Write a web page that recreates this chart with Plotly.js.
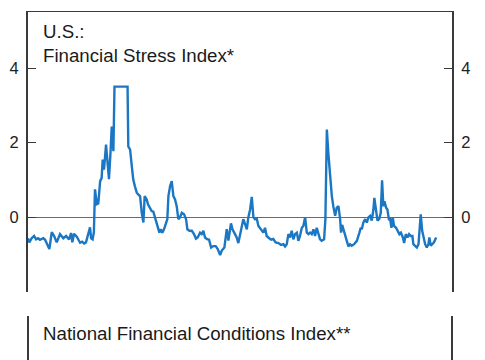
<!DOCTYPE html>
<html>
<head>
<meta charset="utf-8">
<script src="https://cdn.plot.ly/plotly-3.0.1.min.js"></script>
<style>
  html, body { margin: 0; padding: 0; background: #fff; }
  #chart { width: 485px; height: 360px; }
</style>
</head>
<body>
<div id="chart"></div>
<script>
// Time in decimal years
const years = [
  2003.96, 2004.03, 2004.16, 2004.29, 2004.40, 2004.51, 2004.61, 2004.79, 2004.89, 2004.98,
  2005.12, 2005.25, 2005.38, 2005.52, 2005.62, 2005.70, 2005.88, 2006.03, 2006.19, 2006.30,
  2006.37, 2006.46, 2006.61, 2006.71, 2006.79, 2006.90, 2007.01, 2007.11, 2007.24, 2007.33,
  2007.39, 2007.47, 2007.54, 2007.60, 2007.70, 2007.78, 2007.88, 2007.96, 2008.02, 2008.09,
  2008.20, 2008.28, 2008.36, 2008.45, 2008.51, 2008.55, 2008.60, 2008.66, 2008.69, 2009.34,
  2009.37, 2009.41, 2009.51, 2009.60, 2009.68, 2009.77, 2009.87, 2009.96, 2010.05, 2010.14,
  2010.23, 2010.30, 2010.41, 2010.48, 2010.55, 2010.68, 2010.77, 2010.86, 2010.99, 2011.10,
  2011.17, 2011.26, 2011.35, 2011.45, 2011.53, 2011.59, 2011.68, 2011.77, 2011.86, 2011.95,
  2012.04, 2012.13, 2012.22, 2012.32, 2012.44, 2012.55, 2012.62, 2012.73, 2012.86, 2012.98,
  2013.09, 2013.18, 2013.31, 2013.40, 2013.49, 2013.58, 2013.67, 2013.80, 2013.91, 2014.03,
  2014.16, 2014.27, 2014.40, 2014.49, 2014.63, 2014.76, 2014.85, 2014.99, 2015.07, 2015.21,
  2015.30, 2015.39, 2015.48, 2015.58, 2015.66, 2015.76, 2015.85, 2015.93, 2016.03, 2016.12,
  2016.21, 2016.30, 2016.39, 2016.48, 2016.57, 2016.66, 2016.75, 2016.84, 2016.93, 2017.02,
  2017.17, 2017.29, 2017.42, 2017.57, 2017.71, 2017.84, 2017.93, 2018.02, 2018.11, 2018.20,
  2018.29, 2018.38, 2018.47, 2018.57, 2018.65, 2018.74, 2018.84, 2018.92, 2019.02, 2019.11,
  2019.20, 2019.29, 2019.38, 2019.47, 2019.56, 2019.65, 2019.74, 2019.83, 2019.92, 2020.05,
  2020.12, 2020.20, 2020.28, 2020.38, 2020.47, 2020.55, 2020.65, 2020.74, 2020.83, 2020.92,
  2020.97, 2021.03, 2021.10, 2021.19, 2021.28, 2021.37, 2021.46, 2021.55, 2021.68, 2021.83,
  2021.97, 2022.04, 2022.10, 2022.18, 2022.28, 2022.37, 2022.46, 2022.55, 2022.64, 2022.73,
  2022.78, 2022.88, 2022.95, 2023.04, 2023.13, 2023.20, 2023.27, 2023.33, 2023.42, 2023.49,
  2023.57, 2023.64, 2023.71, 2023.78, 2023.85, 2023.96, 2024.03, 2024.14, 2024.22, 2024.33,
  2024.40, 2024.49, 2024.58, 2024.67, 2024.76, 2024.85, 2024.90, 2025.00, 2025.09, 2025.18,
  2025.23, 2025.30, 2025.38, 2025.45, 2025.54, 2025.63, 2025.72, 2025.77, 2025.85, 2025.93,
  2026.02, 2026.14
];

// Financial Stress Index values (display capped at 3.5 as in the source)
const stressIndex = [
  -0.56, -0.67, -0.56, -0.50, -0.59, -0.56, -0.60, -0.56, -0.60, -0.72,
  -0.85, -0.40, -0.50, -0.67, -0.55, -0.45, -0.56, -0.50, -0.59, -0.42,
  -0.67, -0.44, -0.52, -0.60, -0.68, -0.65, -0.70, -0.67, -0.40, -0.27,
  -0.56, -0.59, -0.40, 0.75, 0.35, 0.37, 0.97, 1.05, 1.55, 1.28,
  1.95, 1.50, 1.02, 1.80, 2.43, 2.10, 1.77, 3.50, 3.50, 3.50,
  3.50, 1.90, 1.81, 1.37, 1.01, 0.83, 0.66, 0.61, 0.57, 0.13,
  -0.14, 0.57, 0.48, 0.35, 0.27, 0.17, 0.15, 0.00, -0.23, -0.41,
  -0.32, -0.41, -0.32, -0.14, -0.05, 0.57, 0.83, 0.97, 0.57, 0.48,
  0.30, -0.05, 0.00, 0.12, 0.08, -0.05, -0.32, -0.36, -0.36, -0.45,
  -0.57, -0.54, -0.41, -0.45, -0.36, -0.54, -0.58, -0.60, -0.81, -0.77,
  -0.77, -0.85, -1.01, -0.89, -0.81, -0.32, -0.62, -0.16, -0.32, -0.45,
  -0.54, -0.69, -0.45, -0.28, -0.05, -0.19, -0.32, -0.01, 0.21, 0.55,
  0.00, -0.05, -0.03, -0.23, -0.28, -0.36, -0.41, -0.28, -0.50, -0.54,
  -0.60, -0.58, -0.67, -0.69, -0.74, -0.72, -0.78, -0.72, -0.45, -0.54,
  -0.36, -0.59, -0.45, -0.41, -0.63, -0.50, -0.28, -0.23, 0.00, -0.41,
  -0.45, -0.41, -0.45, -0.32, -0.50, -0.28, -0.45, -0.59, -0.63, -0.59,
  -0.05, 2.35, 1.72, 1.10, 0.57, 0.30, 0.04, 0.26, 0.30, -0.05,
  -0.41, -0.20, -0.32, -0.50, -0.67, -0.78, -0.72, -0.76, -0.72, -0.63,
  -0.41, -0.28, -0.32, -0.14, -0.05, -0.14, 0.00, 0.04, -0.09, 0.21,
  0.52, 0.12, -0.09, -0.05, 0.12, 0.99, 0.30, 0.43, 0.26, 0.21,
  -0.05, -0.05, -0.28, 0.00, -0.23, -0.28, -0.36, -0.45, -0.41, -0.54,
  -0.69, -0.45, -0.54, -0.45, -0.50, -0.50, -0.72, -0.76, -0.81, -0.72,
  -0.41, 0.08, -0.36, -0.54, -0.72, -0.81, -0.72, -0.54, -0.76, -0.72,
  -0.67, -0.54
];

const yTickVals = [0, 2, 4];
const yTickText = ['0', '2', '4'];
const titleLines = ['U.S.:', 'Financial Stress Index*'];
const panel2Title = 'National Financial Conditions Index**';

const FONT = 'Liberation Sans, Arial, Helvetica, sans-serif';
const FRAME = '#3a3a3a';
const LINE_BLUE = '#1b77c3';

const yDomain = [1 - 292 / 360, 1 - 12 / 360];
const panel2Top = 1 - 316 / 360;

const trace = {
  x: years,
  y: stressIndex,
  type: 'scatter',
  mode: 'lines',
  line: { color: LINE_BLUE, width: 2.4 },
  xaxis: 'x',
  yaxis: 'y',
  hoverinfo: 'skip'
};
const traceRight = {
  x: [years[0]],
  y: [stressIndex[0]],
  type: 'scatter',
  mode: 'lines',
  line: { color: 'rgba(0,0,0,0)', width: 0 },
  xaxis: 'x',
  yaxis: 'y2',
  hoverinfo: 'skip',
  showlegend: false
};

const yCommon = {
  range: [-2, 5.5],
  domain: yDomain,
  tickmode: 'array',
  tickvals: yTickVals,
  ticktext: yTickText,
  ticks: 'inside',
  ticklen: 8,
  tickwidth: 1,
  tickcolor: FRAME,
  showline: true,
  linecolor: FRAME,
  linewidth: 2,
  showgrid: false,
  tickfont: { family: FONT, size: 16.5, color: '#222' },
  ticklabelstandoff: 4,
  fixedrange: true
};

const layout = {
  width: 485,
  height: 360,
  margin: { l: 28, r: 33, t: 0, b: 0, pad: 0 },
  paper_bgcolor: '#ffffff',
  plot_bgcolor: '#ffffff',
  showlegend: false,
  font: { family: FONT, size: 16, color: '#222' },
  xaxis: {
    range: [2003.96, 2027.0],
    side: 'top',
    anchor: 'y',
    showline: true,
    linecolor: FRAME,
    linewidth: 1.5,
    showticklabels: false,
    ticks: '',
    showgrid: false,
    zeroline: false,
    fixedrange: true
  },
  yaxis: Object.assign({}, yCommon, {
    side: 'left',
    zeroline: true,
    zerolinecolor: '#6a6a6a',
    zerolinewidth: 1.2
  }),
  yaxis2: Object.assign({}, yCommon, {
    side: 'right',
    overlaying: 'y',
    zeroline: false
  }),
  annotations: [
    { text: titleLines[0], xref: 'paper', yref: 'paper', x: 0.031, y: 1 - 31 / 360,
      xanchor: 'left', yanchor: 'middle', showarrow: false,
      font: { family: FONT, size: 18.7, color: '#1a1a1a' } },
    { text: titleLines[1], xref: 'paper', yref: 'paper', x: 0.031, y: 1 - 55 / 360,
      xanchor: 'left', yanchor: 'middle', showarrow: false,
      font: { family: FONT, size: 18.7, color: '#1a1a1a' } },
    { text: panel2Title, xref: 'paper', yref: 'paper', x: 0.031, y: 1 - 333 / 360,
      xanchor: 'left', yanchor: 'middle', showarrow: false,
      font: { family: FONT, size: 18.7, color: '#1a1a1a' } }
  ],
  shapes: [
    { type: 'line', xref: 'paper', yref: 'paper', x0: 0, x1: 0, y0: -0.02, y1: panel2Top,
      line: { color: FRAME, width: 2 } },
    { type: 'line', xref: 'paper', yref: 'paper', x0: 1, x1: 1, y0: -0.02, y1: panel2Top,
      line: { color: FRAME, width: 2 } }
  ]
};

Plotly.newPlot('chart', [trace, traceRight], layout, { staticPlot: true, displayModeBar: false });
</script>
</body>
</html>
